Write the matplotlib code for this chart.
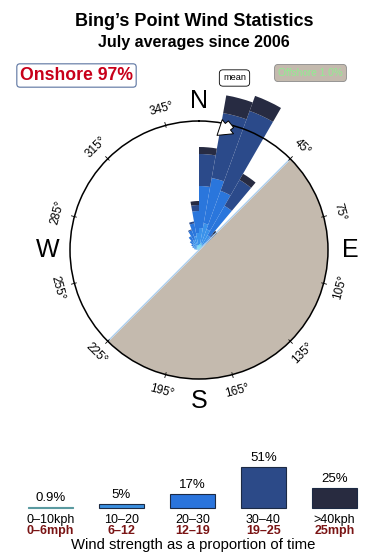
import numpy as np
import matplotlib
matplotlib.use("Agg")
import matplotlib.pyplot as plt

plt.rcParams['font.family'] = ['Liberation Sans', 'DejaVu Sans']

# wind rose: direction bins (centre, degrees) and stacked segment lengths
# in pixels of radius (compass circle = 129)
directions = [285, 295, 305, 315, 325, 335, 345, 355, 5, 15, 25, 35, 45]
seg_0_10 = [2, 2, 3, 3, 4, 4, 5, 5, 6, 7, 6, 5, 3]
seg_10_20 = [3, 4, 4, 5, 6, 7, 9, 12, 16, 20, 16, 12, 6]
seg_20_30 = [0, 1, 2, 4, 6, 10, 13, 22, 42, 46, 41, 34, 8]
seg_30_40 = [0, 0, 0, 0, 0, 1, 2, 6, 32, 66, 85, 30, 4]
seg_40up = [0, 0, 0, 0, 0, 0, 0, 4, 7, 18, 16, 7, 4]
circle_r = 129

offshore_from, offshore_to = 45, 225
mean_dir = 11
onshore_pct = "97%"
offshore_pct = "1.0%"

deg_labels = [345, 315, 285, 255, 225, 195, 165, 135, 105, 75, 45]
cardinals = {"N": 0, "E": 90, "S": 180, "W": 270}

# strength legend
speed_kph = ["0\u201310kph", "10\u201320", "20\u201330", "30\u201340", ">40kph"]
speed_mph = ["0\u20136mph", "6\u201312", "12\u201319", "19\u201325", "25mph"]
speed_pct = [0.9, 5, 17, 51, 25]
pct_labels = ["0.9%", "5%", "17%", "51%", "25%"]

colors = ["#5ccef0", "#3a92ea", "#2a76dc", "#2b4a8a", "#272b42"]
legend_colors = ["#5a9aa0", "#3a8fe0", "#2a74dc", "#2c4a88", "#282b40"]


def fx(x):
    return x / 390


def fy(y):
    return 1 - y / 560


fig = plt.figure(figsize=(3.9, 5.6), dpi=100)

fig.text(fx(194), fy(26.5), "Bing\u2019s Point Wind Statistics", ha="center",
         va="baseline", fontsize=13, fontweight="bold")
fig.text(fx(193.5), fy(47), "July averages since 2006", ha="center",
         va="baseline", fontsize=11.5, fontweight="bold")

fig.text(fx(20), fy(80), "Onshore " + onshore_pct, ha="left", va="baseline",
         fontsize=12.7, fontweight="bold", color="#c8001a",
         bbox=dict(boxstyle="round,pad=0.18", fc="white", ec="#5a73a0", lw=0.8))
fig.text(fx(310.5), fy(73), "Offshore " + offshore_pct, ha="center", va="center",
         fontsize=7.3, color="#90ee90",
         bbox=dict(boxstyle="round,pad=0.35", fc="#c4baae", ec="#8a8a8a", lw=0.6))
fig.text(fx(234.5), fy(78), "mean", ha="center", va="center", fontsize=6.6,
         bbox=dict(boxstyle="round,pad=0.4", fc="white", ec="black", lw=0.6))

# rose
ax = fig.add_axes([fx(199 - 129), fy(250 + 129), 258 / 390, 258 / 560],
                  projection="polar")
ax.set_theta_zero_location("N")
ax.set_theta_direction(-1)
ax.set_ylim(0, circle_r)
ax.set_xticks([])
ax.set_yticks([])
ax.grid(False)
ax.spines["polar"].set_linewidth(1.1)
ax.spines["polar"].set_color("black")

theta = np.radians(directions)
bottom = np.zeros(len(directions))
for seg, col in zip([seg_0_10, seg_10_20, seg_20_30, seg_30_40, seg_40up], colors):
    seg = np.array(seg, dtype=float)
    ax.bar(theta, seg, width=np.radians(10), bottom=bottom, color=col,
           linewidth=0, clip_on=False, zorder=1)
    bottom += seg

th = np.linspace(np.radians(offshore_from), np.radians(offshore_to), 200)
ax.fill_between(th, 0, circle_r, color="#c4baae", lw=0, zorder=2)
for a in (offshore_from, offshore_to):
    ax.plot([np.radians(a)] * 2, [0, circle_r], color="#a9cdee", lw=0.9, zorder=2.1)

ax.annotate("", xy=(np.radians(mean_dir - 3), 114),
            xytext=(np.radians(mean_dir + 4), 132),
            arrowprops=dict(arrowstyle="simple,head_width=1.3,head_length=1.0,tail_width=0.6",
                            fc="white", ec="black", lw=0.7), zorder=3)

for d in deg_labels:
    rot = 180 - d if 90 < d < 270 else -d
    ax.plot([np.radians(d)] * 2, [127, 132], color="black", lw=0.6,
            clip_on=False, zorder=3)
    ax.text(np.radians(d), 146, f"{d}\u00b0", ha="center", va="center",
            rotation=rot, rotation_mode="anchor", fontsize=8.5)

for name, d in cardinals.items():
    ax.text(np.radians(d), 149 if name == "N" else 151, name, ha="center",
            va="center", fontsize=18)

# strength legend bars
lax = fig.add_axes([fx(15), fy(508), 355 / 390, 60 / 560])
x = np.arange(len(speed_pct))
lax.bar(x, speed_pct, width=0.63, color=legend_colors,
        edgecolor=["#5a9aa0", "#1c2a44", "#1c2a44", "#1c2a44", "#1c2a44"],
        linewidth=0.8, clip_on=False)
lax.set_xlim(-0.5, len(speed_pct) - 0.5)
lax.set_ylim(0, 75)
lax.axis("off")

for i, (v, lab) in enumerate(zip(speed_pct, pct_labels)):
    lax.annotate(lab, xy=(i, v), xytext=(0, 6.8), textcoords="offset points",
                 ha="center", va="center", fontsize=9.5)
    lax.annotate(speed_kph[i], xy=(i, 0), xytext=(0, -8.3), textcoords="offset points",
                 ha="center", va="center", fontsize=9, annotation_clip=False)
    lax.annotate(speed_mph[i], xy=(i, 0), xytext=(0, -16.6), textcoords="offset points",
                 ha="center", va="center", fontsize=9, color="#7a1414",
                 fontweight="bold", annotation_clip=False)

fig.text(fx(193), fy(545), "Wind strength as a proportion of time", ha="center",
         va="center", fontsize=10.7)

fig.savefig("out.png", dpi=100)
